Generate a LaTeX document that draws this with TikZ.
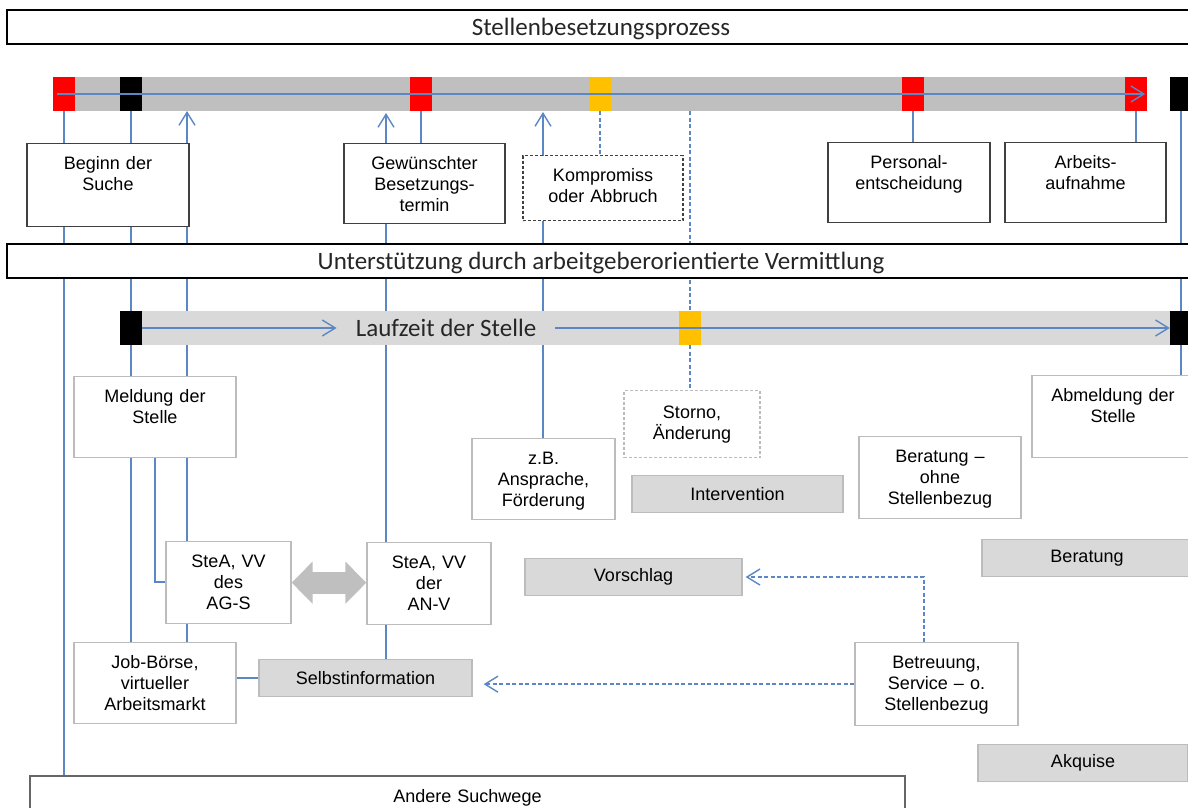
\documentclass[tikz,border=0pt]{standalone}
\usepackage{fontspec}
\setmainfont{Liberation Sans}
\newfontfamily\headfont{Carlito}
\usetikzlibrary{arrows.meta,backgrounds}

\definecolor{linkblue}{HTML}{5B88C4}
\definecolor{bargray}{HTML}{BFBFBF}
\definecolor{lanegray}{HTML}{D9D9D9}
\definecolor{framegray}{HTML}{404040}
\definecolor{softgray}{HTML}{BCBCBC}
\definecolor{signalred}{HTML}{FF0000}
\definecolor{amber}{HTML}{FFC000}

\newcommand{\boxsize}{\fontsize{18pt}{21pt}\selectfont}
\newcommand{\headsize}{\headfont\fontsize{25pt}{30pt}\selectfont}

\begin{document}
\begin{tikzpicture}[x=1pt,y=-1pt,>={Straight Barb[length=13pt,width=16pt]}]

    \tikzset{
      eventbox/.style={
        draw=framegray,
        line width=1.3pt,
        fill=white,
        anchor=north,
        inner sep=0pt,
        align=center,
        text width=#1,
        text height=26pt,
        font=\boxsize,
      },
      stepbox/.style={eventbox=#1, draw=softgray},
      labelbox/.style={
        draw=softgray,
        line width=1.3pt,
        fill=lanegray,
        inner sep=0pt,
        minimum width=#1,
        minimum height=37pt,
        font=\boxsize,
      },
      headbox/.style={
        draw=black,
        line width=2.2pt,
        fill=white,
        inner sep=0pt,
        minimum width=1188pt,
        minimum height=34pt,
        text depth=0pt,
        text=black!85,
        font=\headsize,
      },
      milestone/.style={
        fill=#1,
        inner sep=0pt,
        minimum width=22pt,
        minimum height=34pt,
      },
      link/.style={color=linkblue, line width=1.4pt},
      linkdash/.style={link, dash pattern=on 4pt off 2.5pt},
    }
    \useasboundingbox (0,0) rectangle (1188,807);

	\node[headbox] (title) at (601,27) {Stellenbesetzungsprozess};
	\node[headbox] (unter) at (601,261) {Unterstützung durch arbeitgeberorientierte Vermittlung};

	\node[fill=bargray, inner sep=0pt, minimum width=1094pt, minimum height=34pt, anchor=north west] (bar) at (53,77) {};
	\node[milestone=signalred] (r1) at (64,94) {};
	\node[milestone=black] (b1) at (131,94) {};
	\node[milestone=signalred] (r2) at (421,94) {};
	\node[milestone=amber] (o1) at (600,94) {};
	\node[milestone=signalred] (r3) at (913,94) {};
	\node[milestone=signalred] (r4) at (1136,94) {};
	\node[milestone=black] (rb) at (1181,94) {};

	\node[fill=lanegray, inner sep=0pt, minimum width=1080pt, minimum height=34pt, anchor=north west] (lane) at (120,311) {};
	\node[milestone=black] (lb1) at (131,328) {};
	\node[milestone=amber] (o2) at (690,328) {};
	\node[milestone=black] (lb2) at (1181,328) {};
	\node[inner sep=0pt, inner xsep=19pt, text=black!85, font=\headsize] (laufzeit) at (446,328) {Laufzeit der Stelle};

	\node[eventbox=162pt, text depth=57pt] (beginn) at (108,143) {Beginn der\\Suche};
	\node[eventbox=161pt, text depth=54pt] (gew) at (424.5,143) {Gewünschter\\Besetzungs-\\termin};
	\node[eventbox=160pt, text depth=39pt, dash pattern=on 3pt off 2pt] (komp) at (603,155) {Kompromiss\\oder Abbruch};
	\node[eventbox=162pt, text depth=54pt] (pers) at (909,142) {Personal-\\entscheidung};
	\node[eventbox=161pt, text depth=54pt] (arb) at (1085.5,142) {Arbeits-\\aufnahme};

	\node[stepbox=162pt, text depth=55pt] (meld) at (155,376) {Meldung der\\Stelle};
	\node[stepbox=143pt, text depth=55pt] (zb) at (543.5,438) {z.B.\\Ansprache,\\Förderung};
	\node[stepbox=136pt, text height=28pt, text depth=39pt, dash pattern=on 3pt off 2pt] (storno) at (692,390) {Storno,\\Änderung};
	\node[stepbox=162pt, text depth=56pt] (ohne) at (940,436) {Beratung –\\ohne\\Stellenbezug};
	\node[stepbox=162pt, text depth=56pt] (abm) at (1113,375) {Abmeldung der\\Stelle};
	\node[stepbox=125pt, text depth=56pt] (ags) at (228.5,541) {SteA, VV\\des\\AG-S};
	\node[stepbox=124pt, text depth=56pt] (anv) at (429,542) {SteA, VV\\der\\AN-V};
	\node[stepbox=162pt, text depth=55pt] (jobb) at (155,642) {Job-Börse,\\virtueller\\Arbeitsmarkt};
	\node[stepbox=163pt, text depth=57pt] (betr) at (936.5,642) {Betreuung,\\Service – o.\\Stellenbezug};

	\node[labelbox=211pt] (interv) at (737.5,494) {Intervention};
	\node[labelbox=217pt] (vors) at (633.5,577) {Vorschlag};
	\node[labelbox=213pt] (selbst) at (365.5,678) {Selbstinformation};
	\node[labelbox=210pt] (berat) at (1087,558) {Beratung};
	\node[labelbox=210pt] (akq) at (1083,763) {Akquise};

	\node[eventbox=875pt, text depth=40pt, anchor=north west, line width=2pt, draw=framegray!80] (andere) at (29,775) {Andere Suchwege};

	\draw[link,->] ([xshift=4pt]r1.west) -- ([xshift=-2pt]r4.east);
	\draw[link,->] (lb1.east) -- (laufzeit.west);
	\draw[link,->] (laufzeit.east) -- (lb2.west);
	\draw[line width=22pt, color=bargray, {Triangle[length=21pt,width=41pt]}-{Triangle[length=21pt,width=41pt]}] (ags.east) -- (ags.east -| anv.west);

	\begin{scope}[on background layer]
	\coordinate (tipA) at (187,111);
	\coordinate (tipB) at (386,113);
	\coordinate (tipC) at (543,112);
	\coordinate (kneeA) at (155,582);
	\coordinate (kneeB) at (924,577);
	\draw[link] (r1.center) -- (r1 |- andere.north);
	\draw[link] (b1.center) -- (b1 |- jobb.north);
	\draw[link,<-] (tipA) -- (tipA |- jobb.north);
	\draw[link] (kneeA |- meld.south) -- (kneeA) -- (kneeA -| ags.west);
	\draw[link] (r2.center) -- (r2 |- gew.north);
	\draw[link,<-] (tipB) -- (tipB |- selbst.north);
	\draw[link,<-] (tipC) -- (tipC |- zb.north);
	\draw[linkdash] (o1.south) -- (o1 |- komp.north);
	\draw[linkdash] (o2 |- bar.south) -- (o2 |- storno.north);
	\draw[link] (r3.center) -- (r3 |- pers.north);
	\draw[link] (r4.center) -- (r4 |- arb.north);
	\draw[link] (rb.center) -- (rb |- abm.north);
	\draw[link] (jobb.east |- selbst.west) -- (selbst.west);
	\draw[linkdash,->,shorten >=11pt] (betr.west) -- (betr.west -| selbst.east);
	\draw[linkdash,->,shorten >=3pt] (kneeB |- betr.north) -- (kneeB) -- (kneeB -| vors.east);
	\end{scope}

\end{tikzpicture}
\end{document}
